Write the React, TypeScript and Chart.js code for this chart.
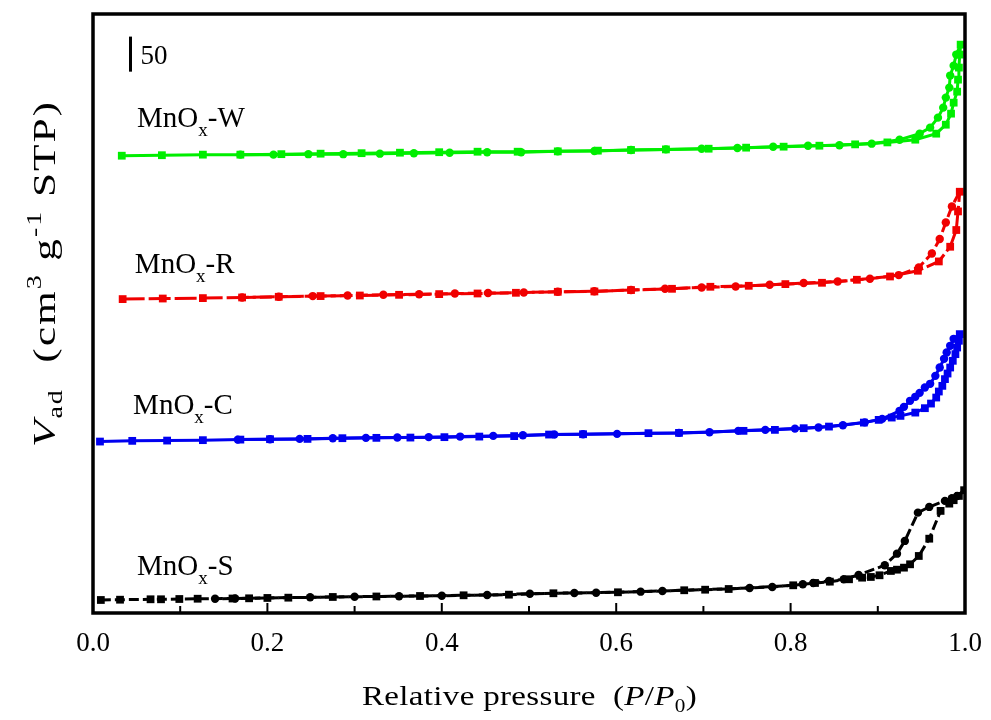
import React, { useEffect, useRef } from "react";
import { Chart, registerables } from "chart.js";

Chart.register(...registerables);

// ---- Data (P/P0 and adsorbed volume, offset stacked, arbitrary origin) ----
const wAdsP = [0.033,0.079,0.126,0.169,0.216,0.261,0.308,0.352,0.397,0.441,0.487,0.533,0.579,0.617,0.657,0.706,0.749,0.792,0.833,0.874,0.911,0.943,0.967,0.978,0.984,0.987,0.991,0.992,0.993,0.994,0.995];
const wAdsV = [653.5,654.2,655,655,655.7,656.4,657.1,657.8,658.5,659.2,659.2,659.7,660.7,661.7,662.5,663.5,665,666.4,667.8,669.7,672.5,676.4,685,697.8,713.6,729.3,745,762.2,779.4,798,812.2];
const wDesP = [0.995,0.990,0.987,0.983,0.982,0.978,0.975,0.969,0.960,0.948,0.925,0.893,0.856,0.820,0.780,0.739,0.698,0.657,0.617,0.575,0.533,0.491,0.452,0.409,0.368,0.329,0.287,0.247,0.207,0.169];
const wDesV = [812.2,798,782.2,768,750.8,736.5,722.2,707.9,693.6,685,676.4,670.7,668.5,667.8,666.4,664.5,663.5,662.5,661.7,660.2,659.7,658.5,658.5,657.8,657.1,656.4,655.7,655.7,655,655];

const rAdsP = [0.034,0.080,0.126,0.171,0.213,0.261,0.306,0.351,0.397,0.441,0.485,0.533,0.575,0.617,0.664,0.708,0.752,0.794,0.836,0.876,0.914,0.946,0.970,0.983,0.990,0.992,0.994];
const rAdsV = [448.6,449.4,450,450.9,451.9,452.9,453.7,454.7,455.7,456.6,457.6,459,459.5,461.5,463.3,466.2,467.6,470,471.9,476.2,480.9,489.1,502.4,523.4,547.3,573.9,602];
const rDesP = [0.994,0.985,0.978,0.971,0.962,0.947,0.924,0.891,0.854,0.815,0.776,0.737,0.698,0.656,0.617,0.575,0.533,0.494,0.453,0.415,0.374,0.333,0.292,0.252,0.213,0.171];
const rDesV = [602,581,558.1,534.4,513.8,493.8,482.9,477.6,473.8,471.5,469,466.6,465.2,463.3,461.5,459.8,459,458,457.2,456.5,455.5,454.7,453.7,452.9,451.9,450.9];

const cAdsP = [0.008,0.045,0.085,0.126,0.169,0.203,0.246,0.286,0.325,0.364,0.403,0.443,0.483,0.523,0.562,0.637,0.672,0.746,0.782,0.815,0.844,0.884,0.901,0.916,0.926,0.943,0.954,0.961,0.967,0.970,0.974,0.977,0.980,0.983,0.986,0.989,0.991,0.993,0.994];
const cAdsV = [245,246,246.4,247,247.8,248.4,248.8,249.8,250.3,250.7,251.3,252.1,252.8,255,255.5,257,257.4,260.3,261.7,264.1,266.4,272.1,276,279.3,281.7,286.4,292.7,299.3,307.9,316.5,324.6,334.2,342.2,350.8,360.4,369.9,379.4,389,398.5];
const cDesP = [0.994,0.987,0.983,0.979,0.976,0.971,0.966,0.960,0.954,0.948,0.943,0.937,0.930,0.925,0.905,0.885,0.860,0.832,0.805,0.771,0.740,0.707,0.672,0.601,0.562,0.529,0.493,0.459,0.421,0.385,0.349,0.313,0.275,0.237,0.203,0.166];
const cDesV = [398.5,391.8,381.8,372.2,363.2,350.8,338.9,327.5,322.2,314.6,308.9,303.2,294.6,288.9,277.4,272.4,268.4,265,263.5,261.7,260.3,258.4,257.4,256,255.5,255,254.1,253.1,252.1,251.3,250.7,250.3,249.8,248.8,248.4,247.8];

const sAdsP = [0.009,0.031,0.066,0.078,0.099,0.120,0.160,0.179,0.200,0.224,0.275,0.325,0.375,0.425,0.477,0.528,0.602,0.678,0.702,0.729,0.803,0.828,0.845,0.867,0.882,0.892,0.902,0.915,0.922,0.930,0.937,0.947,0.959,0.972,0.982,0.987,0.993,0.999];
const sAdsV = [18.6,19,19.6,19.6,20,20.4,20.7,21,21.5,21.9,22.9,23.6,24.3,25.3,26.2,28.2,29.6,32.5,33.3,34.3,39.6,42.9,44.8,48.2,50.5,51.5,53.9,60.1,61.9,64.8,69.6,81.5,106.2,145.9,156.3,161.2,167.3,175.5];
const sDesP = [0.999,0.991,0.985,0.977,0.959,0.946,0.931,0.922,0.908,0.878,0.861,0.844,0.826,0.814,0.779,0.753,0.653,0.628,0.577,0.552,0.501,0.452,0.400,0.351,0.300,0.249,0.163,0.140];
const sDesV = [175.5,167.3,164,160.2,151.6,143.4,103,84.8,68.2,54.3,48.2,45.8,42.9,41,37.2,35.8,31.5,30.5,29,28.6,27.6,25.7,24.7,23.9,23.3,22.5,20.7,20.4];

// scale bar: 50 units
const barP = [0.043, 0.043];
const barV = [773.6, 823.7];
const barLabel = "50";

const xTicks = [0, 0.2, 0.4, 0.6, 0.8, 1.0];
const seriesNames = ["W", "R", "C", "S"];
// label anchors in data units
const labelP = [0.0505, 0.048, 0.046, 0.0505];
const labelV = [695, 486, 285, 54];

const FONT = "'Liberation Serif', 'Times New Roman', serif";

function pts(p: number[], v: number[]) {
  return p.map((x, i) => ({ x, y: v[i] }));
}

type Part = { text: string; size: number; italic?: boolean; dy?: number };

// draws parts on one baseline; optional stretch (sx) and letter spacing to fit a target width
function drawRich(ctx: CanvasRenderingContext2D, parts: Part[], targetWidth?: number, sx = 1) {
  let total = 0;
  let nChars = 0;
  const fonts = parts.map((p) => `${p.italic ? "italic " : ""}${p.size}px ${FONT}`);
  ctx.save();
  (ctx as any).letterSpacing = "0px";
  const widths = parts.map((p, i) => {
    ctx.font = fonts[i];
    const w = ctx.measureText(p.text).width;
    total += w;
    nChars += p.text.length;
    return w;
  });
  const ls = targetWidth ? Math.max(0, (targetWidth / sx - total) / nChars) : 0;
  ctx.scale(sx, 1);
  let cx = 0;
  parts.forEach((p, i) => {
    ctx.font = fonts[i];
    (ctx as any).letterSpacing = `${ls}px`;
    ctx.fillText(p.text, cx, p.dy || 0);
    cx += widths[i] + ls * p.text.length;
  });
  ctx.restore();
}

const decor = {
  id: "decor",
  afterDraw(chart: any) {
    const { ctx, chartArea, scales } = chart;
    const xs = scales.x;
    const ys = scales.y;
    ctx.save();
    ctx.fillStyle = "#000";
    ctx.strokeStyle = "#000";
    ctx.textBaseline = "alphabetic";
    ctx.textAlign = "left";

    // inward ticks
    ctx.lineWidth = 2;
    for (let i = 0; i <= 10; i++) {
      const px = xs.getPixelForValue(i / 10);
      const len = i % 2 === 0 ? 10 : 7;
      ctx.beginPath();
      ctx.moveTo(px, chartArea.bottom);
      ctx.lineTo(px, chartArea.bottom - len);
      ctx.stroke();
    }
    // frame
    ctx.lineWidth = 3.5;
    ctx.strokeRect(chartArea.left, chartArea.top, chartArea.right - chartArea.left, chartArea.bottom - chartArea.top);

    // series labels
    seriesNames.forEach((n, i) => {
      const x = xs.getPixelForValue(labelP[i]);
      const y = ys.getPixelForValue(labelV[i]);
      ctx.save();
      ctx.translate(x, y);
      drawRich(ctx, [
        { text: "MnO", size: 29 },
        { text: "x", size: 19, dy: 9 },
        { text: "-" + n, size: 29 },
      ]);
      ctx.restore();
    });

    // scale bar label
    ctx.font = `27px ${FONT}`;
    ctx.fillText(barLabel, xs.getPixelForValue(barP[0]) + 10, ys.getPixelForValue(barV[0]) - 8);

    // x title
    ctx.save();
    ctx.translate(362, 705);
    drawRich(
      ctx,
      [
        { text: "Relative pressure  (", size: 28 },
        { text: "P", size: 28, italic: true },
        { text: "/", size: 28 },
        { text: "P", size: 28, italic: true },
        { text: "0", size: 18, dy: 7 },
        { text: ")", size: 28 },
      ],
      335,
      1.18
    );
    ctx.restore();

    // y title
    ctx.save();
    ctx.translate(55, 447);
    ctx.rotate(-Math.PI / 2);
    drawRich(
      ctx,
      [
        { text: "V", size: 31, italic: true },
        { text: "ad", size: 20, dy: 7 },
        { text: "  (cm", size: 31 },
        { text: "3", size: 20, dy: -14 },
        { text: " g", size: 31 },
        { text: "-1", size: 20, dy: -14 },
        { text: " STP)", size: 31 },
      ],
      347,
      1.4
    );
    ctx.restore();

    ctx.restore();
  },
};

function branch(p: number[], v: number[], color: string, style: string, dash: number[], skipFirst: boolean) {
  return {
    data: pts(p, v),
    showLine: true,
    borderColor: color,
    backgroundColor: color,
    borderWidth: 3,
    borderDash: dash,
    pointStyle: style,
    pointRadius: (c: any) => (skipFirst && c.dataIndex === 0 ? 0 : style === "rect" ? 5.5 : 4.2),
    pointBorderWidth: 0,
    pointHoverRadius: 0,
    tension: 0,
  };
}

export default function App() {
  const ref = useRef<HTMLCanvasElement | null>(null);
  useEffect(() => {
    if (!ref.current) return;
    const green = "#00ee00";
    const red = "#f00000";
    const blue = "#0000f0";
    const black = "#000000";
    const chart = new Chart(ref.current, {
      type: "scatter",
      data: {
        datasets: [
          { data: pts(barP, barV), showLine: true, borderColor: "#000", borderWidth: 3, pointRadius: 0 } as any,
          branch(wAdsP, wAdsV, green, "rect", [], false),
          branch(wDesP, wDesV, green, "circle", [], true),
          branch(rAdsP, rAdsV, red, "rect", [22, 4], false),
          branch(rDesP, rDesV, red, "circle", [12, 4], true),
          branch(cAdsP, cAdsV, blue, "rect", [], false),
          branch(cDesP, cDesV, blue, "circle", [], true),
          branch(sAdsP, sAdsV, black, "rect", [10, 4], false),
          branch(sDesP, sDesV, black, "circle", [10, 4], true),
        ],
      },
      options: {
        responsive: false,
        animation: false,
        layout: { padding: { top: 14, right: 26, left: 0, bottom: 0 } },
        plugins: { legend: { display: false }, tooltip: { enabled: false } },
        events: [],
        scales: {
          x: {
            type: "linear",
            min: 0,
            max: 1,
            afterFit: (s: any) => {
              s.height = 107;
            },
            afterBuildTicks: (s: any) => {
              s.ticks = xTicks.map((v) => ({ value: v }));
            },
            ticks: {
              font: { family: FONT, size: 27 },
              color: "#000",
              padding: 7,
              maxRotation: 0,
              callback: (v: any) => Number(v).toFixed(1),
            },
            grid: { display: false },
            border: { display: false },
          },
          y: {
            type: "linear",
            min: 0,
            max: 856,
            afterFit: (s: any) => {
              s.width = 93;
            },
            ticks: { display: false },
            grid: { display: false },
            border: { display: false },
          },
        },
      },
      plugins: [decor],
    });
    return () => chart.destroy();
  }, []);
  return (
    <div style={{ position: "fixed", left: 0, top: 0, width: 991, height: 720, background: "#fff" }}>
      <canvas ref={ref} width={991} height={720} style={{ display: "block", width: 991, height: 720 }} />
    </div>
  );
}
